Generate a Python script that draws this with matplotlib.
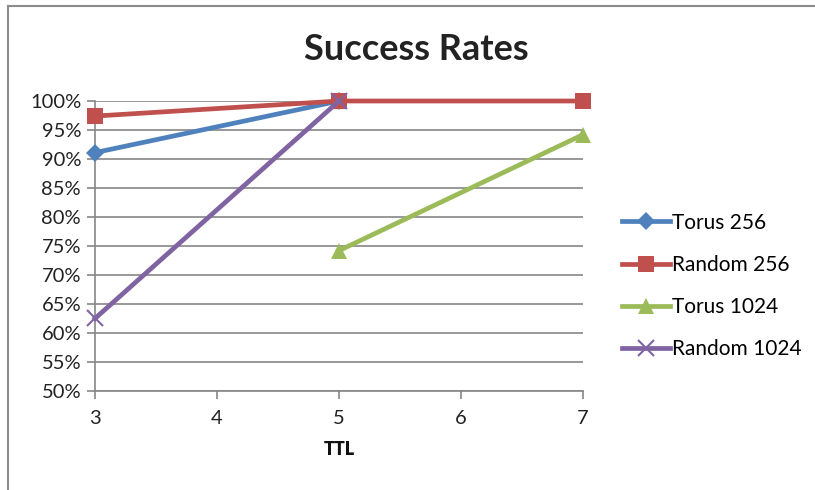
import matplotlib
matplotlib.use("Agg")
import matplotlib.pyplot as plt
from matplotlib.lines import Line2D
from matplotlib.ticker import PercentFormatter

plt.rcParams['font.family'] = ['Lato', 'DejaVu Sans']

ttl = [3, 4, 5, 6, 7]
series_names = ["Torus 256", "Random 256", "Torus 1024", "Random 1024"]
torus256_x = [3, 5]
torus256_y = [0.911, 1.0]
random256_x = [3, 5, 7]
random256_y = [0.974, 1.0, 1.0]
torus1024_x = [5, 7]
torus1024_y = [0.742, 0.942]
random1024_x = [3, 5]
random1024_y = [0.625, 1.0]
yticks = [0.50, 0.55, 0.60, 0.65, 0.70, 0.75, 0.80, 0.85, 0.90, 0.95, 1.00]

colors = ["#4F81BD", "#C0504D", "#9BBB59", "#8064A2"]
markers = ["D", "s", "^", "x"]
msizes = [9, 12, 12, 12]

fig = plt.figure(figsize=(8.15, 4.9), dpi=100)
ax = fig.add_axes([95/815, 99/490, (583-95)/815, (391-101)/490])

data = [(torus256_x, torus256_y), (random256_x, random256_y),
        (torus1024_x, torus1024_y), (random1024_x, random1024_y)]
for (xs, ys), name, c, m, ms in zip(data, series_names, colors, markers, msizes):
    kw = dict(markeredgewidth=1.5) if m == "x" else dict(markeredgewidth=0)
    ax.plot(xs, ys, color=c, lw=3.4, marker=m, markersize=ms, label=name,
            clip_on=False, zorder=3, **kw)

ax.set_xlim(3, 7)
ax.set_ylim(0.5, 1.0)
ax.set_xticks(ttl)
ax.set_yticks(yticks)
ax.yaxis.set_major_formatter(PercentFormatter(1.0, decimals=0))
ax.grid(axis='y', color='#868686', lw=1.2)
ax.set_axisbelow(True)
for s in ['top', 'right']:
    ax.spines[s].set_visible(False)
for s in ['left', 'bottom']:
    ax.spines[s].set_color('#868686')
    ax.spines[s].set_linewidth(1.2)
ax.tick_params(axis='both', colors='#868686', length=6, width=1.2, labelsize=14.5,
               labelcolor='#222222')
ax.tick_params(axis='x', pad=8)
ax.tick_params(axis='y', pad=4)
ax.set_xlabel("TTL", fontsize=13, fontweight='heavy', color='#111111', labelpad=10)

fig.text(416/815, 1 - 50/490, "Success Rates", ha='center',
         va='center', fontsize=26, fontweight='bold', color='#222222')

leg = ax.legend(loc='center left', bbox_to_anchor=(622/815, 1 - 286/490),
                bbox_transform=fig.transFigure, frameon=False,
                fontsize=15, labelspacing=1.07, handlelength=2.3,
                handletextpad=0.1, borderaxespad=0, borderpad=0)

fig.add_artist(Line2D([7.5/815, 1], [1 - 6.5/490, 1 - 6.5/490], transform=fig.transFigure,
                      color='#8c8c8c', lw=1.5))
fig.add_artist(Line2D([7.5/815, 7.5/815], [0, 1 - 6.5/490], transform=fig.transFigure,
                      color='#8c8c8c', lw=1.5))

fig.savefig("out.png", dpi=100)
